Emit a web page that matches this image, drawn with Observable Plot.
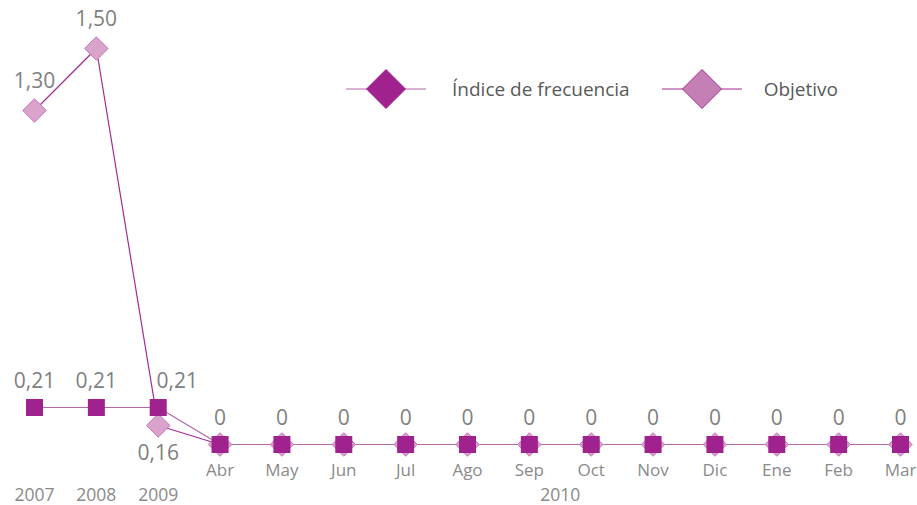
<!DOCTYPE html>
<html>
<head>
<meta charset="utf-8">
<script src="https://cdn.jsdelivr.net/npm/d3@7"></script>
<script src="https://cdn.jsdelivr.net/npm/@observablehq/plot@0.6"></script>
<style>
  html, body { margin: 0; padding: 0; background: #fff; }
  #wrap { position: relative; width: 917px; height: 505px; font-family: "Open Sans", sans-serif; }
  #chart { position: absolute; left: 0; top: 0; }
  #legend { position: absolute; top: 68px; left: 346px; display: flex; align-items: center; color: #595959; font-size: 19px; }
  .item { display: flex; align-items: center; }
  .item svg { display: block; }
  .item span { white-space: nowrap; }
</style>
</head>
<body>
<div id="wrap">
  <div id="chart"></div>
  <div id="legend"></div>
</div>
<script>
// ---- data ----
const categories = ["2007", "2008", "2009", "Abr", "May", "Jun", "Jul", "Ago", "Sep", "Oct", "Nov", "Dic", "Ene", "Feb", "Mar"];
const monthLabels = ["", "", "", "Abr", "May", "Jun", "Jul", "Ago", "Sep", "Oct", "Nov", "Dic", "Ene", "Feb", "Mar"];
const yearLabels = ["2007", "2008", "2009", "2010"];
const yearStart = [0, 1, 2, 3];
const yearEnd = [0, 1, 2, 14];
const indice = [0.21, 0.21, 0.21, 0, 0, 0, 0, 0, 0, 0, 0, 0, 0, 0, 0];
const objetivo = [1.30, 1.50, 0.16, 0, 0, 0, 0, 0, 0, 0, 0, 0, 0, 0, 0];
const objetivoLabelled = [true, true, true, false, false, false, false, false, false, false, false, false, false, false, false];
const objetivoLabelBelow = [false, false, true, false, false, false, false, false, false, false, false, false, false, false, false];
const seriesNames = ["Índice de frecuencia", "Objetivo"];

// ---- tables ----
const fmt = v => v === 0 ? "0" : v.toFixed(2).replace(".", ",");
const rowsI = categories.map((c, i) => ({i, c, v: indice[i]}));
const rowsO = categories.map((c, i) => ({i, c, v: objetivo[i], show: objetivoLabelled[i], below: objetivoLabelBelow[i]}));
const months = categories.map((c, i) => ({i, label: monthLabels[i]})).filter(d => d.label);
const years = yearLabels.map((y, k) => ({label: y, x: (yearStart[k] + yearEnd[k]) / 2}));
// the Índice label at the point where both series are labelled nearby is nudged right
const crowded = d => d.i === 2;

const C_IND = "#a0228f", C_IND_LINE = "#b667aa";
const C_OBJ_FILL = "#daa3cc", C_OBJ_STROKE = "#c378b6", C_OBJ_LINE = "#a42a94";
const C_OBJ_LEG = "#c47fb5";
const LABEL = "#808080", AXIS = "#8a8a8a";

const chart = Plot.plot({
  width: 917,
  height: 505,
  marginTop: 48,
  marginBottom: 61,
  marginLeft: 34,
  marginRight: 17,
  style: {fontFamily: "'Open Sans', sans-serif", background: "transparent", overflow: "visible"},
  x: {type: "linear", domain: [0, categories.length - 1], axis: null},
  y: {type: "linear", domain: [0, 0.16, 0.21, 1.30, 1.50], range: [444, 425, 407, 110, 48], axis: null},
  marks: [
    Plot.line(rowsO, {x: "i", y: "v", stroke: C_OBJ_LINE, strokeWidth: 1.2}),
    Plot.line(rowsI, {x: "i", y: "v", stroke: C_IND_LINE, strokeWidth: 1.2}),
    Plot.dot(rowsO, {x: "i", y: "v", symbol: "diamond2", r: 10.6, fill: C_OBJ_FILL, stroke: C_OBJ_STROKE, strokeWidth: 1}),
    Plot.dot(rowsI, {x: "i", y: "v", symbol: "square", r: 9.6, fill: C_IND, stroke: null}),
    Plot.text(rowsI.filter(d => !crowded(d)), {x: "i", y: "v", text: d => fmt(d.v), dy: -26, fill: LABEL, fontSize: 21, lineAnchor: "middle"}),
    Plot.text(rowsI.filter(crowded), {x: "i", y: "v", text: d => fmt(d.v), dy: -26, dx: 19, fill: LABEL, fontSize: 21, lineAnchor: "middle"}),
    Plot.text(rowsO.filter(d => d.show && !d.below), {x: "i", y: "v", text: d => fmt(d.v), dy: -29, fill: LABEL, fontSize: 21, lineAnchor: "middle"}),
    Plot.text(rowsO.filter(d => d.show && d.below), {x: "i", y: "v", text: d => fmt(d.v), dy: 28, fill: LABEL, fontSize: 21, lineAnchor: "middle"}),
    Plot.text(months, {x: "i", text: "label", frameAnchor: "bottom", dy: 26, fill: AXIS, fontSize: 17, lineAnchor: "middle"}),
    Plot.text(years, {x: "x", text: "label", frameAnchor: "bottom", dy: 51, fill: AXIS, fontSize: 17.5, lineAnchor: "middle"})
  ]
});
document.getElementById("chart").appendChild(chart);

// ---- legend ----
const legendSpecs = [
  {name: seriesNames[0], line: C_IND_LINE, fill: C_IND, stroke: C_IND, gap: 0, pad: 26},
  {name: seriesNames[1], line: C_OBJ_LINE, fill: C_OBJ_LEG, stroke: C_OBJ_LINE, gap: 32, pad: 22}
];
const legend = d3.select("#legend");
legendSpecs.forEach(s => {
  const item = legend.append("div").attr("class", "item").style("margin-left", s.gap + "px");
  const svg = item.append("svg").attr("width", 80).attr("height", 42);
  svg.append("line").attr("x1", 0).attr("x2", 80).attr("y1", 21).attr("y2", 21)
    .attr("stroke", s.line).attr("stroke-width", 1.2);
  svg.append("path").attr("d", "M40,1.5L59.5,21L40,40.5L20.5,21Z")
    .attr("fill", s.fill).attr("stroke", s.stroke).attr("stroke-width", 1);
  item.append("span").style("margin-left", s.pad + "px").text(s.name);
});
</script>
</body>
</html>
